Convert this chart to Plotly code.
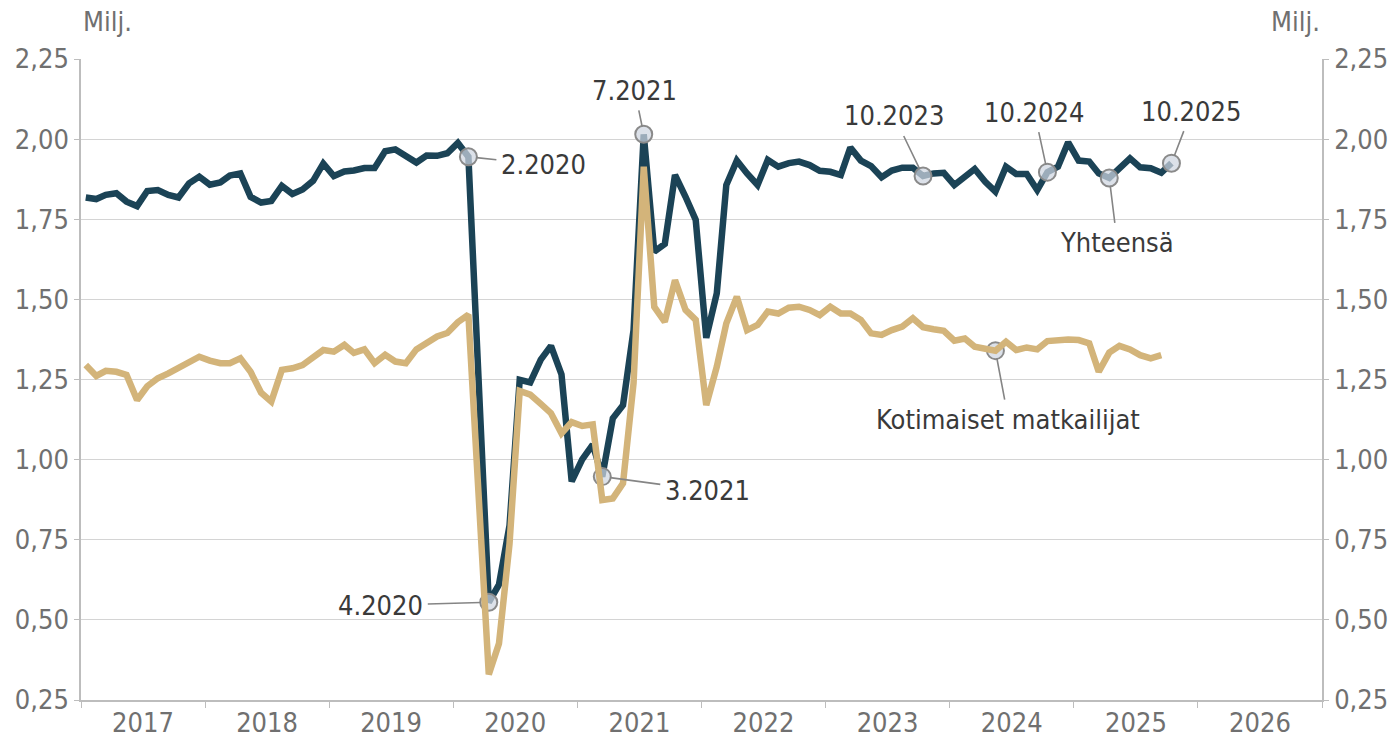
import plotly.graph_objects as go
import pandas as pd

# ---------------- data (millions of overnight stays, monthly) ----------------
start_month = "2017-01-01"
total = [
    1.818, 1.813, 1.826, 1.831, 1.805, 1.791, 1.838, 1.841, 1.826, 1.818, 1.862, 1.883,   # 2017
    1.858, 1.865, 1.886, 1.893, 1.820, 1.802, 1.807, 1.854, 1.829, 1.843, 1.870, 1.924,   # 2018
    1.885, 1.899, 1.902, 1.910, 1.910, 1.962, 1.968, 1.947, 1.927, 1.949, 1.948, 1.956,   # 2019
    1.988, 1.945, 1.220, 0.555, 0.610, 0.794, 1.249, 1.241, 1.312, 1.355, 1.266, 0.932,   # 2020
    1.001, 1.047, 0.947, 1.129, 1.170, 1.404, 2.015, 1.649, 1.673, 1.888, 1.820, 1.748,   # 2021
    1.380, 1.519, 1.857, 1.933, 1.893, 1.857, 1.935, 1.914, 1.925, 1.930, 1.919, 1.901,   # 2022
    1.898, 1.888, 1.974, 1.933, 1.916, 1.881, 1.902, 1.911, 1.911, 1.885, 1.893, 1.895,   # 2023
    1.857, 1.881, 1.907, 1.867, 1.836, 1.914, 1.891, 1.891, 1.841, 1.897, 1.914, 1.990,   # 2024
    1.933, 1.930, 1.893, 1.879, 1.909, 1.940, 1.912, 1.909, 1.895, 1.925,                 # 2025
]
domestic = [
    1.295, 1.261, 1.277, 1.274, 1.264, 1.186, 1.229, 1.254, 1.269, 1.285, 1.304, 1.321,
    1.309, 1.301, 1.301, 1.316, 1.274, 1.209, 1.181, 1.280, 1.285, 1.295, 1.319, 1.342,
    1.337, 1.358, 1.333, 1.344, 1.301, 1.327, 1.306, 1.301, 1.344, 1.361, 1.384, 1.395,
    1.429, 1.452, 0.880, 0.330, 0.426, 0.737, 1.214, 1.203, 1.174, 1.145, 1.082, 1.117,
    1.105, 1.110, 0.874, 0.879, 0.926, 1.238, 1.914, 1.477, 1.430, 1.560, 1.467, 1.436,
    1.170, 1.290, 1.425, 1.508, 1.404, 1.420, 1.462, 1.456, 1.474, 1.477, 1.467, 1.451,
    1.477, 1.456, 1.456, 1.436, 1.394, 1.389, 1.404, 1.415, 1.441, 1.413, 1.407, 1.402,
    1.371, 1.378, 1.352, 1.344, 1.340, 1.368, 1.342, 1.350, 1.344, 1.370, 1.373, 1.375,
    1.373, 1.363, 1.274, 1.334, 1.355, 1.344, 1.326, 1.316, 1.326,
]
y_ticks = [0.25, 0.50, 0.75, 1.00, 1.25, 1.50, 1.75, 2.00, 2.25]
x_range = ["2017-01-01", "2027-01-01"]

# callouts: label, series, month label used for position, text offset (px)
callouts = [
    ("2.2020", "total", "2.2020", 75, 8),
    ("4.2020", "total", "4.2020", -108, 3),
    ("3.2021", "total", "3.2021", 105, 14),
    ("7.2021", "total", "7.2021", -9, -44),
    ("10.2023", "total", "10.2023", -29, -60),
    ("10.2024", "total", "10.2024", -13, -60),
    ("10.2025", "total", "10.2025", 20, -52),
    ("Yhteensä", "total", "4.2025", 8, 65),
    ("Kotimaiset matkailijat", "domestic", "5.2024", 13, 69),
]

# ---------------- styling ----------------
FONT = "DejaVu Sans Condensed, Noto Sans, DejaVu Sans, sans-serif"
DARK = "#1b4356"
TAN = "#d3b47a"
GRID = "#d4d4d4"
AXIS = "#bdbdbd"
TICKTXT = "#707070"
ANNTXT = "#3a3a3a"

dates_total = pd.date_range(start_month, periods=len(total), freq="MS") + pd.Timedelta(days=14)
dates_dom = pd.date_range(start_month, periods=len(domestic), freq="MS") + pd.Timedelta(days=14)
series = {"total": (dates_total, total), "domestic": (dates_dom, domestic)}

fig = go.Figure()
fig.add_trace(go.Scatter(x=dates_total, y=total, mode="lines", name="Yhteensä",
                         line=dict(color=DARK, width=6.5), yaxis="y",
                         hoverinfo="skip"))
fig.add_trace(go.Scatter(x=dates_dom, y=domestic, mode="lines", name="Kotimaiset matkailijat",
                         line=dict(color=TAN, width=6.5), yaxis="y2", hoverinfo="skip"))

mx, my = [], []
for text, key, mlabel, ax, ay in callouts:
    mo, yr = mlabel.split(".")
    idx = (int(yr) - 2017) * 12 + int(mo) - 1
    d, vals = series[key]
    mx.append(d[idx])
    my.append(vals[idx])
    fig.add_annotation(x=d[idx], y=vals[idx], xref="x", yref="y", text=text,
                       showarrow=True, arrowhead=0, arrowwidth=1.6, arrowcolor="#858585",
                       ax=ax, ay=ay, standoff=8, borderpad=4,
                       font=dict(family=FONT, size=27, color=ANNTXT))

fig.add_trace(go.Scatter(x=mx, y=my, mode="markers", yaxis="y", hoverinfo="skip",
                         marker=dict(size=17, color="rgba(206,214,224,0.72)",
                                     line=dict(color="#8a8a8a", width=2))))

for xp, anchor in [(0, "left"), (1, "right")]:
    fig.add_annotation(x=xp, y=1 + 37 / 641, xref="paper", yref="paper", text="Milj.",
                       showarrow=False, xanchor=anchor, yanchor="middle",
                       font=dict(family=FONT, size=27, color=TICKTXT))

axis_common = dict(range=[0.25, 2.25], tickvals=y_ticks, tickformat=".2f",
                   ticks="outside", ticklen=5, tickcolor=AXIS, showline=True,
                   linecolor=AXIS, linewidth=1.5, zeroline=False, automargin=False,
                   tickfont=dict(family=FONT, size=27, color=TICKTXT))

fig.update_layout(
    width=1391, height=739,
    margin=dict(l=81, r=69, t=59, b=39, autoexpand=False),
    plot_bgcolor="white", paper_bgcolor="white",
    separators=", ",
    showlegend=False,
    font=dict(family=FONT, size=27, color=TICKTXT),
    xaxis=dict(type="date", range=x_range, tick0="2017-01-01", dtick="M12",
               ticklabelmode="period", tickformat="%Y", ticks="outside", ticklen=6,
               ticklabelstandoff=-8,
               tickcolor=AXIS, showline=True, linecolor=AXIS, linewidth=1.5,
               showgrid=False, zeroline=False, automargin=False,
               tickfont=dict(family=FONT, size=27, color=TICKTXT)),
    yaxis=dict(side="left", showgrid=True, gridcolor=GRID, gridwidth=1.2, **axis_common),
    yaxis2=dict(side="right", overlaying="y", showgrid=False, **axis_common),
)

fig.write_html("out.html", config={"displayModeBar": False},
               post_script="document.body.style.margin='0';document.body.style.overflow='hidden';")
